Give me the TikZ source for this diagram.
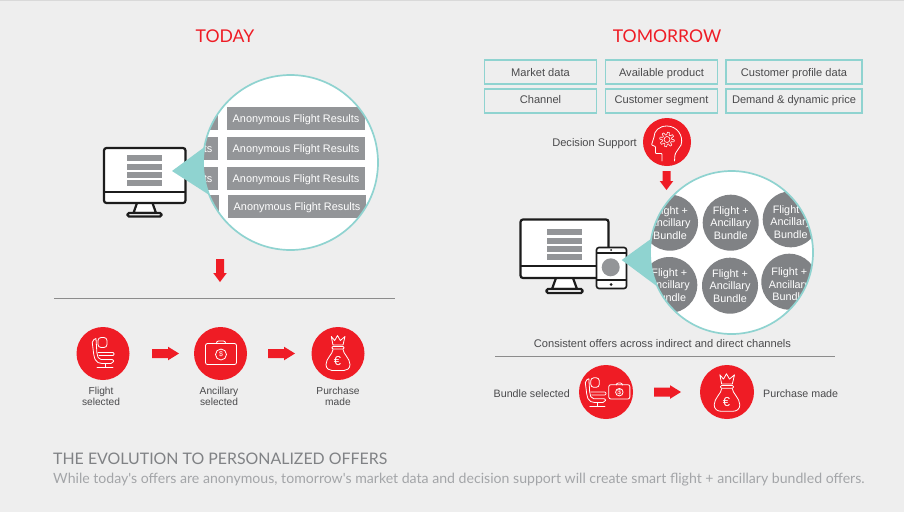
\documentclass[tikz,border=0pt]{standalone}
\usepackage{fontspec}
\setmainfont{Liberation Sans}
\newfontfamily\lightfont{Lato}
\definecolor{bgc}{HTML}{EEEEEE}
\definecolor{redc}{HTML}{EF1C25}
\definecolor{tealc}{HTML}{8FD3D0}
\definecolor{barc}{HTML}{939598}
\definecolor{bunc}{HTML}{808285}
\definecolor{inkc}{HTML}{1C1C1C}
\definecolor{txtc}{HTML}{4A4A4C}
\tikzset{
  x=1pt,y=-1pt,
  lab/.style={font=\fontsize{10.2}{11.6}\selectfont,text=txtc,inner sep=0pt,align=center},
  labw/.style={lab,font=\fontsize{11.1}{12}\selectfont},
  ttl/.style={font=\lightfont\fontsize{17.6}{20}\selectfont,text=redc,inner sep=0pt},
  databox/.style={draw=tealc,line width=1.7pt,fill=bgc,inner sep=0pt,minimum height=24pt,font=\fontsize{11.1}{12}\selectfont,text=txtc},
  toprow/.style={text height=10.7pt,text depth=1.7pt},
  lowrow/.style={text height=7.5pt,text depth=2.5pt},
  redcirc/.style={circle,fill=redc,inner sep=0pt},
  bar/.style={fill=barc,inner sep=0pt,minimum width=138pt,minimum height=23pt,text=white,font=\fontsize{10.9}{12}\selectfont,text height=9pt,text depth=2pt},
  bun/.style={circle,fill=bunc,inner sep=0pt,minimum size=56pt,text=white,align=center,font=\fontsize{10.8}{12.5}\selectfont},
  ruleline/.style={draw=black!45,line width=0.6pt},
  ico/.style={draw=white,line width=0.8pt,line join=round,line cap=round},
  scr/.style={draw=inkc,line width=2.2pt,fill=white,rounded corners=2.5pt},
  seatpic/.pic={
    \draw[ico,rounded corners=3pt] (-5,-16) rectangle (4,-6);
    \draw[ico,rounded corners=2pt] (-7,-15) -- (-11,-13) -- (-9,3) -- (-7,8) -- (-3,10) -- (10,10) -- (11,6) -- (-4,6) -- (-6,1) -- (-7,-15);
    \draw[ico,rounded corners=1pt] (-5,-1) -- (11,-1) -- (11,2) -- (-4,2);
    \draw[ico] (2,10) -- (2,14) (-6,14) -- (10,14);
  },
  casepic/.pic={
    \draw[ico,rounded corners=2pt] (-15,-10) rectangle (16,11);
    \draw[ico,rounded corners=2pt] (-4,-10) -- (-4,-12.5) -- (5,-12.5) -- (5,-10);
    \draw[ico] (0.5,1) circle[radius=5.5pt];
    \node[text=white,inner sep=0pt,font=\fontsize{7}{7}\selectfont] (dollar) at (0.5,1) {\$};
  },
  bagpic/.pic={
    \draw[ico] (-6.7,-17) -- (-3.3,-13) -- (-0.5,-18) -- (2.3,-13) -- (7,-17) -- (5,-8.5) -- (-5,-8.5) -- cycle;
    \draw[ico,rounded corners=1pt] (-6,-7) rectangle (6,-4.5);
    \draw[ico] (-5,-4) .. controls (-5,0) and (-12,5) .. (-12,11) .. controls (-12,15) and (-9,17) .. (-6,17) -- (6,17) .. controls (9,17) and (12,15) .. (12,11) .. controls (12,5) and (5,0) .. (5,-4);
    \node[text=white,inner sep=0pt,font=\fontsize{13}{13}\selectfont] (euro) at (-0.5,8) {€};
  },
  headpic/.pic={
    \draw[ico,rounded corners=1.2pt] (7.5,19) -- (8,12) -- (14,3);
    \draw[ico] (14,3) .. controls (17,-6) and (10,-16) .. (0,-16) .. controls (-8,-16) and (-13,-11) .. (-13,-5);
    \draw[ico,rounded corners=0.8pt] (-13,-5) -- (-15.5,3) -- (-11.5,4.5) -- (-11.5,11.5) -- (-5,11.5) -- (-5,19);
    \draw[ico,line width=0.6pt] plot[domain=0:360,samples=97] ({(6+1.3*sign(sin(8*\x)))*cos(\x)},{-2.5+(6+1.3*sign(sin(8*\x)))*sin(\x)}) -- cycle;
    \draw[ico,line width=0.6pt] (0,-2.5) circle[radius=3pt];
  },
}
\newcommand{\rarrow}[2]{\fill[redc] (#1,#2-4.5) -- (#1+16,#2-4.5) -- (#1+16,#2-6.8) -- (#1+27,#2) -- (#1+16,#2+6.8) -- (#1+16,#2+4.5) -- (#1,#2+4.5) -- cycle;}
\newcommand{\darrow}[3]{\fill[redc] (#1-4,#2) -- (#1+4,#2) -- (#1+4,#3-9) -- (#1+6.8,#3-9) -- (#1,#3) -- (#1-6.8,#3-9) -- (#1-4,#3-9) -- cycle;}
\begin{document}
\begin{tikzpicture}
\useasboundingbox (0,0) rectangle (904,512);
\fill[bgc] (0,0) rectangle (904,512);
\fill[black!15] (0,0) rectangle (904,1);
% titles
\node[ttl] (today) at (225,36) {TODAY};
\node[ttl] (tomorrow) at (667,36) {TOMORROW};
% left monitor
\draw[inkc,line width=2.2pt,fill=white,line join=round] (137,203) -- (133.5,213) -- (156,213) -- (152.5,203);
\draw[inkc,line width=2.2pt,fill=white,rounded corners=1.5pt] (127.5,213) rectangle (161.5,216.5);
\draw[scr] (104,148) rectangle (185.5,203);
\draw[inkc,line width=2.2pt] (104,192) -- (185.5,192);
\foreach \yy in {155,164,172,180} \fill[barc] (127,\yy) rectangle (162,\yy+6);
% left lens
\fill[tealc] (172,171) -- (210,143) -- (214,198) -- cycle;
\fill[white] (290.5,162.5) circle[radius=87.5pt];
\begin{scope}
\clip (290.5,162.5) circle[radius=87.5pt];
\foreach \n/\yy/\xx/\tx in {a/118.5/296/Anonymous Flight Results,b/148.5/296/Anonymous Flight Results,c/178.5/296/Anonymous Flight Results,d/206.5/297/Anonymous Flight Results,e/118.5/149/Anonymous Flight Results,f/148.5/149/Anonymous Flight Results,g/178.5/149/Anonymous Flight Results,h/206.5/150/Anonymous Flight Results}
  \node[bar] (bar\n) at (\xx,\yy) {\tx};
\end{scope}
\draw[tealc,line width=1.7pt] (290.5,162.5) circle[radius=87.5pt];
\darrow{220}{259}{282}
\draw[ruleline] (54,298.5) -- (395,298.5);
% left flow
\node[redcirc,minimum size=53pt] (f1) at (103,353.5) {};
\node[redcirc,minimum size=53pt] (f2) at (220.5,353.5) {};
\node[redcirc,minimum size=53pt] (f3) at (338,353.5) {};
\pic at (f1.center) {seatpic};
\pic at (f2.center) {casepic};
\pic at (f3.center) {bagpic};
\rarrow{152}{353.5}
\rarrow{268}{353.5}
\node[lab] (l1) at (101,396.5) {Flight\\selected};
\node[lab] (l2) at (219,396.5) {Ancillary\\selected};
\node[lab] (l3) at (338,396.5) {Purchase\\made};
% data boxes
\node[databox,toprow,minimum width=112pt] (b1) at (540.5,72) {Market data\hspace{6pt}};
\node[databox,toprow,minimum width=112pt] (b2) at (661.5,72) {Available product};
\node[databox,toprow,minimum width=136pt] (b3) at (794,72) {Customer profile data};
\node[databox,lowrow,minimum width=112pt] (b4) at (540.5,101) {Channel};
\node[databox,lowrow,minimum width=112pt] (b5) at (661.5,101) {Customer segment};
\node[databox,lowrow,minimum width=136pt] (b6) at (794,101) {Demand \& dynamic price};
\node[labw,anchor=east] (ds) at (637,144) {Decision Support};
\node[redcirc,minimum size=48pt] (hd) at (667,142) {};
\pic at (hd.center) {headpic};
\darrow{666.5}{171}{190}
% right monitor
\draw[inkc,line width=2.2pt,fill=white,line join=round] (556,278) -- (552,289) -- (577,289) -- (573,278);
\draw[inkc,line width=2.2pt,fill=white,rounded corners=1.5pt] (546.5,289) rectangle (582.5,293);
\draw[scr] (520.5,219.5) rectangle (608.5,278);
\draw[inkc,line width=2.2pt] (520.5,266) -- (608.5,266);
\foreach \yy in {229,238,246,254} \fill[barc] (547,\yy) rectangle (582,\yy+6);
\draw[scr,line width=1.6pt] (596.5,247.5) rectangle (626.5,288.5);
\draw[inkc,line width=1.3pt] (596.5,253) -- (626.5,253) (596.5,280) -- (626.5,280);
\fill[inkc] (611,250) circle[radius=1pt] (611,284.5) circle[radius=1.5pt];
\fill[barc] (610.7,267.3) circle[radius=9pt];
% right lens
\fill[tealc] (621.7,260) -- (655,236) -- (658,287) -- cycle;
\fill[white] (731.5,252.5) circle[radius=81.5pt];
\begin{scope}
\clip (731.5,252.5) circle[radius=81.5pt];
\node[bun] (u1) at (670,222.7) {Flight +\\Ancillary\\Bundle};
\node[bun] (u2) at (730.7,222.7) {Flight +\\Ancillary\\Bundle};
\node[bun] (u3) at (790.7,219.3) {\rule{0pt}{13pt}Flight +\\Ancillary\\Bundle};
\node[bun] (u4) at (669.3,285) {Flight +\\Ancillary\\Bundle};
\node[bun] (u5) at (730,285.7) {Flight +\\Ancillary\\Bundle};
\node[bun] (u6) at (789.3,281.7) {\rule{0pt}{13pt}Flight +\\Ancillary\\Bundle};
\end{scope}
\draw[tealc,line width=1.7pt] (731.5,252.5) circle[radius=81.5pt];
% right flow
\node[labw] (co) at (662.5,344) {Consistent offers across indirect and direct channels};
\draw[ruleline] (495,356.5) -- (835,356.5);
\node[lab,anchor=east,font=\fontsize{10.7}{12}\selectfont] (bs) at (570,394) {Bundle selected};
\node[redcirc,minimum size=54pt] (r1) at (606,392) {};
\pic[scale=0.95] at (595.5,393) {seatpic};
\pic[scale=0.68] at (619,391.5) {casepic};
\rarrow{654}{392}
\node[redcirc,minimum size=54pt] (r2) at (727,392) {};
\pic[scale=1.07] at (727,393) {bagpic};
\node[lab,anchor=west,font=\fontsize{10.7}{12}\selectfont] (pm) at (763,394) {Purchase made};
% footer
\node[anchor=west,inner sep=0pt,text=bunc,font=\lightfont\fontsize{15.9}{18}\selectfont] (h1) at (53,458.5) {THE EVOLUTION TO PERSONALIZED OFFERS};
\node[anchor=west,inner sep=0pt,text=barc!85,font=\lightfont\fontsize{14.1}{15}\selectfont] (h2) at (53,480) {While today's offers are anonymous, tomorrow's market data and decision support will create smart flight + ancillary bundled offers.};
\end{tikzpicture}
\end{document}
